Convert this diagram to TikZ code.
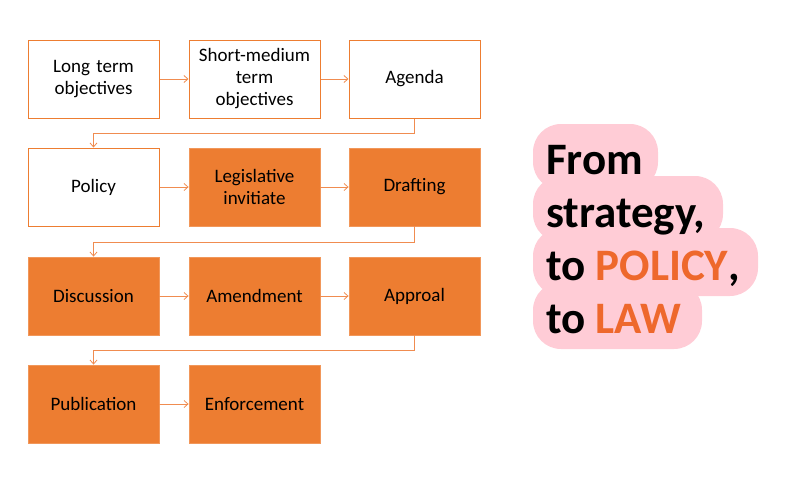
\documentclass[tikz,border=0pt]{standalone}
\usepackage{fontspec}
\setmainfont{Carlito}
\usetikzlibrary{arrows.meta}
\definecolor{boxorange}{RGB}{237,125,49}
\definecolor{lineorange}{RGB}{240,140,80}
\definecolor{textorange}{RGB}{238,104,44}
\definecolor{hlpink}{RGB}{255,204,214}
\tikzset{
  x=1pt,y=-1pt,
  stepbase/.style={minimum width=131pt,minimum height=78pt,inner sep=2pt,align=center,text width=125pt,font=\fontsize{19}{22}\selectfont},
  openbox/.style={stepbase,draw=boxorange,line width=1pt,fill=white},
  fullbox/.style={stepbase,draw=boxorange!80!white,line width=0.8pt,fill=boxorange},
  conn/.style={draw=lineorange,line width=0.8pt,-{Straight Barb[length=4pt,width=7pt]}},
  hl/.style={fill=hlpink,rounded corners=28pt},
  big/.style={font=\fontsize{45}{50}\selectfont\bfseries,inner sep=0pt,anchor=base west}
}
\begin{document}
\begin{tikzpicture}
\useasboundingbox (0,0) rectangle (802,482);
% boxes
\node[openbox] (lto) at (93.5,79) {Long term\\objectives};
\node[openbox] (smt) at (254.5,79) {Short-medium\\term\\objectives};
\node[openbox] (agd) at (414.5,79) {Agenda};
\node[openbox] (pol) at (93.5,187) {Policy};
\node[fullbox] (leg) at (254.5,187) {Legislative\\invitiate};
\node[fullbox] (dra) at (414.5,187) {Drafting};
\node[fullbox] (dis) at (93.5,296) {Discussion};
\node[fullbox] (ame) at (254.5,296) {Amendment};
\node[fullbox] (app) at (414.5,296) {Approal};
\node[fullbox] (pub) at (93.5,404) {Publication};
\node[fullbox] (enf) at (254.5,404) {Enforcement};
% connectors
\draw[conn] (lto) -- (smt);
\draw[conn] (smt) -- (agd);
\draw[conn] (pol) -- (leg);
\draw[conn] (leg) -- (dra);
\draw[conn] (dis) -- (ame);
\draw[conn] (ame) -- (app);
\draw[conn] (pub) -- (enf);
\draw[conn] (agd.south) -- ++(0,15) -| (pol.north);
\draw[conn] (dra.south) -- ++(0,16) -| (dis.north);
\draw[conn] (app.south) -- ++(0,15) -| (pub.north);
% highlight
\fill[hl] (533,124) rectangle (658,190);
\fill[hl] (533,176) rectangle (723,242);
\fill[hl] (533,228) rectangle (758,296);
\fill[hl] (533,282) rectangle (702,349);
\node[big] (t1) at (546,174) {From};
\node[big] (t2) at (546,227) {strategy,};
\node[big] (t3) at (546,280) {to \textcolor{textorange}{POLICY},};
\node[big] (t4) at (546,333) {to \textcolor{textorange}{LAW}};
\end{tikzpicture}
\end{document}
